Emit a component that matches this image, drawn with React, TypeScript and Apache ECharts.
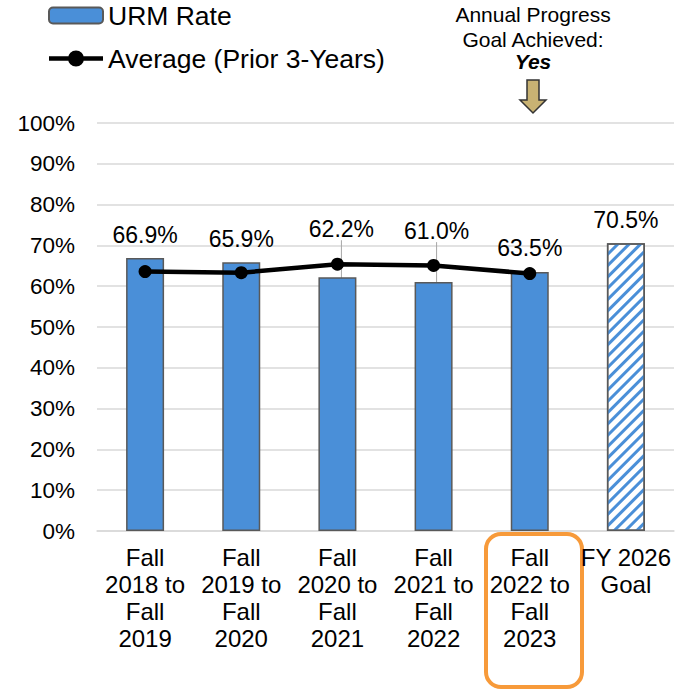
import React, { useEffect, useRef } from "react";
import * as echarts from "echarts";

const categories = [
  "Fall\n2018 to\nFall\n2019",
  "Fall\n2019 to\nFall\n2020",
  "Fall\n2020 to\nFall\n2021",
  "Fall\n2021 to\nFall\n2022",
  "Fall\n2022 to\nFall\n2023",
  "FY 2026\nGoal",
];
const urmRate = [66.9, 65.9, 62.2, 61.0, 63.5, 70.5];
const priorAverage = [63.6, 63.3, 65.4, 65.1, 63.1, null];
const yTicks = { min: 0, max: 100, interval: 10 };
const annotationLines = ["Annual Progress", "Goal Achieved:"];
const annotationAnswer = "Yes";

const FONT = "'Liberation Sans', Arial, sans-serif";
const BLUE = "#4A8FD8";

export default function App() {
  const ref = useRef<HTMLDivElement>(null);
  useEffect(() => {
    if (!ref.current) return;
    document.body.style.margin = "0";
    const chart = echarts.init(ref.current, undefined, { renderer: "svg" });
    const barData = urmRate.map((v, i) => {
      if (i === urmRate.length - 1) {
        return {
          value: v,
          itemStyle: {
            color: "#ffffff",
            decal: {
              symbol: "rect",
              color: BLUE,
              backgroundColor: "#ffffff",
              dashArrayX: [1, 0],
              dashArrayY: [3, 4.5],
              symbolSize: 1,
              rotation: -Math.PI / 4,
            },
          },
        };
      }
      if (i === 2 || i === 3) {
        return {
          value: v,
          labelLine: { show: true, lineStyle: { color: "#a6a6a6", width: 1 } },
        };
      }
      return v;
    });
    chart.setOption({
      animation: false,
      textStyle: { fontFamily: FONT },
      grid: { left: 97, right: 15, top: 123, bottom: 163, containLabel: false },
      legend: {
        orient: "vertical",
        left: 43,
        top: -3,
        itemWidth: 54,
        itemHeight: 16,
        itemGap: 16,
        textStyle: { fontSize: 26.5, color: "#000", fontFamily: FONT },
        data: [
          { name: "URM Rate" },
          {
            name: "Average (Prior 3-Years)",
            icon: "path://M0,5.75h54v4.5h-54z M19,8a8,8 0 1 1 16,0a8,8 0 1 1 -16,0z",
          },
        ],
      },
      xAxis: {
        type: "category",
        data: categories,
        axisTick: { show: false },
        axisLine: { lineStyle: { color: "#d9d9d9", width: 1.5 } },
        axisLabel: {
          color: "#000",
          fontSize: 24,
          lineHeight: 27,
          margin: 13,
          interval: 0,
          fontFamily: FONT,
        },
      },
      yAxis: {
        type: "value",
        min: yTicks.min,
        max: yTicks.max,
        interval: yTicks.interval,
        axisLabel: {
          formatter: "{value}%",
          color: "#000",
          fontSize: 22.5,
          margin: 22,
          fontFamily: FONT,
        },
        splitLine: { lineStyle: { color: "#d9d9d9", width: 1.5 } },
        axisLine: { show: false },
        axisTick: { show: false },
      },
      series: [
        {
          name: "URM Rate",
          type: "bar",
          data: barData,
          barWidth: 38,
          itemStyle: { color: BLUE, borderColor: "#595959", borderWidth: 1.5 },
          label: {
            show: true,
            position: "top",
            distance: 12,
            color: "#000",
            fontSize: 23,
            fontFamily: FONT,
            formatter: (p: any) => Number(p.value).toFixed(1) + "%",
          },
          labelLine: { show: false },
          labelLayout: (p: any) =>
            p.dataIndex === 2
              ? { dx: 4, dy: -25 }
              : p.dataIndex === 3
              ? { dx: 3, dy: -28 }
              : {},
          z: 2,
        },
        {
          name: "Average (Prior 3-Years)",
          type: "line",
          data: priorAverage,
          symbol: "circle",
          symbolSize: 13,
          color: "#000",
          lineStyle: { color: "#000", width: 4.5 },
          itemStyle: { color: "#000" },
          z: 3,
        },
      ],
      graphic: [
        {
          type: "text",
          x: 533,
          y: 2,
          style: {
            text: annotationLines.join("\n"),
            fontSize: 21,
            lineHeight: 25,
            fill: "#000",
            fontFamily: FONT,
            align: "center",
          },
        },
        {
          type: "text",
          x: 533,
          y: 51,
          style: {
            text: annotationAnswer,
            fontSize: 21,
            fontWeight: "bold",
            fontStyle: "italic",
            fill: "#000",
            fontFamily: FONT,
            align: "center",
          },
        },
        {
          type: "polygon",
          shape: {
            points: [
              [527, 80],
              [539, 80],
              [539, 100],
              [546, 100],
              [533, 113],
              [520, 100],
              [527, 100],
            ],
          },
          style: { fill: "#C8B273", stroke: "#333", lineWidth: 1.5 },
        },
        {
          type: "rect",
          shape: { x: 486, y: 534, width: 96, height: 153, r: 15 },
          style: { fill: "none", stroke: "#F79A3A", lineWidth: 4 },
        },
      ],
    });
    return () => chart.dispose();
  }, []);
  return <div ref={ref} style={{ width: 689, height: 694 }} />;
}
